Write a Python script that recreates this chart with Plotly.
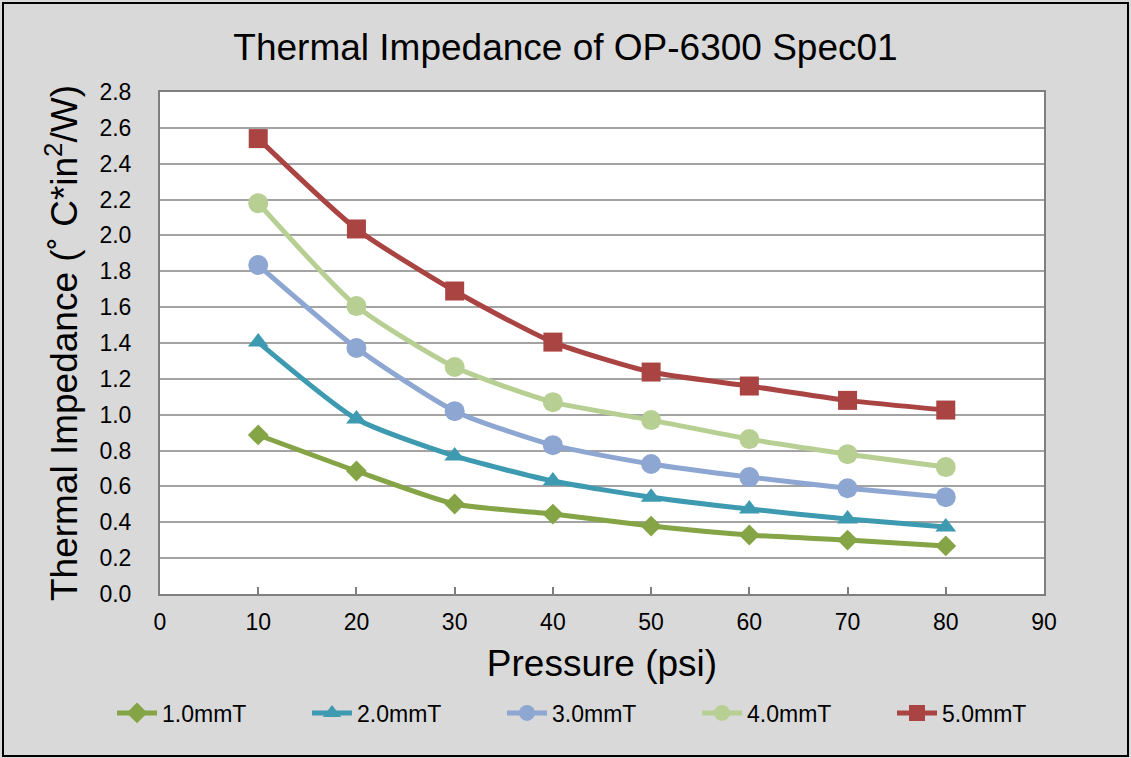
import plotly.graph_objects as go

pressure = [10, 20, 30, 40, 50, 60, 70, 80]
t10 = [0.887, 0.686, 0.502, 0.446, 0.379, 0.329, 0.301, 0.268]
t20 = [1.405, 0.976, 0.770, 0.630, 0.540, 0.474, 0.418, 0.374]
t30 = [1.835, 1.372, 1.020, 0.830, 0.725, 0.652, 0.590, 0.540]
t40 = [2.180, 1.606, 1.266, 1.070, 0.970, 0.864, 0.780, 0.708]
t50 = [2.540, 2.036, 1.690, 1.405, 1.238, 1.160, 1.080, 1.026]

names = ["1.0mmT", "2.0mmT", "3.0mmT", "4.0mmT", "5.0mmT"]
series = [t10, t20, t30, t40, t50]
colors = ["#84A445", "#3D9AB0", "#8EA6D2", "#B8CF93", "#A94442"]
symbols = ["diamond", "triangle-up", "circle", "circle", "square"]
sizes = [16, 18, 20, 20, 19]

fig = go.Figure()
for n, s, c, sym, sz in zip(names, series, colors, symbols, sizes):
    fig.add_trace(go.Scatter(
        x=pressure, y=s, name=n, mode="lines+markers",
        line=dict(color=c, width=5, shape="spline", smoothing=0.6),
        marker=dict(symbol=sym, size=sz, color=c),
    ))

font = "Liberation Sans, Arial, sans-serif"
W, H = 1131, 758
ml, mr, mt, mb = 160, 87, 92, 164
pw, ph = W - ml - mr, H - mt - mb

fig.update_layout(
    width=W, height=H,
    margin=dict(l=ml, r=mr, t=mt, b=mb),
    paper_bgcolor="#D9D9D9", plot_bgcolor="#FFFFFF",
    font=dict(family=font, color="#000000", size=23),
    title=dict(text="Thermal Impedance of OP-6300 Spec01", x=0.5, xanchor="center",
               y=1 - 47 / H, yanchor="middle", font=dict(size=37)),
    xaxis=dict(range=[0, 90], dtick=10, tick0=0, showgrid=False,
               ticks="inside", ticklen=7, tickcolor="#7F7F7F", tickwidth=1.5,
               ticklabelstandoff=6,
               showline=True, linecolor="#7F7F7F", linewidth=2, mirror=True,
               zeroline=False,
               title=dict(text="Pressure (psi)", font=dict(size=37), standoff=17),
               tickfont=dict(size=23)),
    yaxis=dict(range=[0, 2.8], dtick=0.2, tick0=0, tickformat=".1f",
               showgrid=True, gridcolor="#A3A3A3", gridwidth=1.5,
               showline=True, linecolor="#7F7F7F", linewidth=2, mirror=True,
               zeroline=False, ticks="", ticklabelstandoff=22,
               title=dict(text="Thermal Impedance (˚ C*in<sup>2</sup>/W)", font=dict(size=37), standoff=10),
               tickfont=dict(size=23)),
    legend=dict(orientation="h", x=(112 - ml) / pw, xanchor="left",
                y=-(713 - 594) / ph, yanchor="middle",
                font=dict(size=23), bgcolor="rgba(0,0,0,0)",
                itemwidth=40, entrywidth=140, entrywidthmode="pixels"),
    showlegend=True,
)

fig.add_shape(type="rect", xref="paper", yref="paper",
              x0=(3 - ml) / pw, x1=(W - 3 - ml) / pw,
              y0=(mt + ph - (H - 2)) / ph, y1=(mt + ph - 3) / ph,
              line=dict(color="#000000", width=2), fillcolor="rgba(0,0,0,0)", layer="below")

fig.write_html("out.html", config={"displayModeBar": False},
               post_script="document.body.style.margin='0';document.body.style.overflow='hidden';")
